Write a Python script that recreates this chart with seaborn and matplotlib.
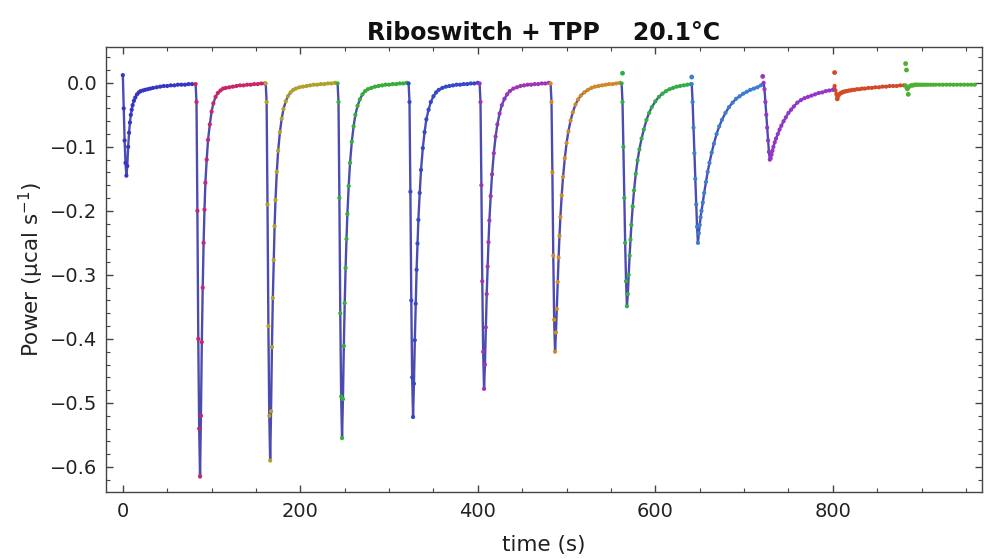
import pandas as pd
import matplotlib
matplotlib.use("Agg")
import matplotlib.pyplot as plt
from matplotlib.ticker import MultipleLocator, FuncFormatter
import seaborn as sns

# Injection start times (s) and the time offsets read inside each injection
inj_start = [0, 82, 161, 242, 322, 402, 482, 562, 641, 722, 802, 882]
rel_t = [0, 1, 2, 3, 4, 5, 6, 7, 8, 9, 10, 11, 12.5, 14, 16, 18, 20, 22.5, 25,
         28, 31, 34, 38, 42, 46, 50, 54, 58, 62, 66, 70, 74, 78]

# Power (ucal/s), one list per injection
p_inj1 = [0.012, -0.04, -0.09, -0.125, -0.145, -0.13, -0.1, -0.078, -0.062, -0.05, -0.042,
          -0.035, -0.028, -0.023, -0.018, -0.015, -0.013, -0.012, -0.011, -0.01, -0.009,
          -0.008, -0.007, -0.006, -0.005, -0.005, -0.004, -0.004, -0.003, -0.003, -0.003,
          -0.002, -0.002]
p_inj2 = [-0.002, -0.03, -0.2, -0.4, -0.54, -0.615, -0.52, -0.405, -0.32, -0.25, -0.198,
          -0.156, -0.12, -0.089, -0.065, -0.045, -0.032, -0.022, -0.016, -0.012, -0.009,
          -0.008, -0.007, -0.006, -0.005, -0.004, -0.004, -0.003, -0.003, -0.002, -0.002,
          -0.001, -0.001]
p_inj3 = [-0.001, -0.03, -0.19, -0.38, -0.52, -0.59, -0.513, -0.413, -0.336, -0.277, -0.224,
          -0.183, -0.139, -0.106, -0.077, -0.056, -0.041, -0.029, -0.021, -0.015, -0.011,
          -0.009, -0.007, -0.006, -0.005, -0.004, -0.003, -0.003, -0.002, -0.002, -0.001,
          -0.001, 0.0]
p_inj4 = [-0.001, -0.03, -0.18, -0.36, -0.49, -0.555, -0.494, -0.411, -0.344, -0.289, -0.244,
          -0.205, -0.161, -0.125, -0.092, -0.068, -0.05, -0.036, -0.026, -0.018, -0.013,
          -0.01, -0.008, -0.006, -0.005, -0.004, -0.003, -0.003, -0.002, -0.002, -0.001,
          -0.001, 0.0]
p_inj5 = [-0.001, -0.03, -0.17, -0.34, -0.46, -0.522, -0.47, -0.402, -0.345, -0.292, -0.251,
          -0.214, -0.172, -0.136, -0.102, -0.077, -0.057, -0.042, -0.03, -0.021, -0.015,
          -0.011, -0.008, -0.006, -0.005, -0.004, -0.003, -0.003, -0.002, -0.002, -0.001,
          -0.001, 0.0]
p_inj6 = [-0.001, -0.03, -0.16, -0.31, -0.42, -0.478, -0.44, -0.382, -0.33, -0.287, -0.249,
          -0.215, -0.177, -0.143, -0.11, -0.084, -0.065, -0.048, -0.035, -0.025, -0.018,
          -0.013, -0.009, -0.007, -0.005, -0.004, -0.003, -0.003, -0.002, -0.002, -0.001,
          -0.001, 0.0]
p_inj7 = [-0.001, -0.03, -0.14, -0.27, -0.37, -0.42, -0.39, -0.353, -0.311, -0.273, -0.239,
          -0.21, -0.176, -0.147, -0.118, -0.094, -0.076, -0.059, -0.046, -0.034, -0.026,
          -0.02, -0.015, -0.011, -0.008, -0.006, -0.005, -0.004, -0.003, -0.002, -0.002,
          -0.001, 0.0]
p_inj8 = [-0.001, -0.03, -0.1, -0.18, -0.25, -0.31, -0.349, -0.33, -0.3, -0.27, -0.245,
          -0.222, -0.193, -0.168, -0.142, -0.121, -0.104, -0.087, -0.073, -0.058, -0.047,
          -0.038, -0.029, -0.022, -0.017, -0.013, -0.01, -0.008, -0.006, -0.005, -0.004,
          -0.003, -0.002]
p_inj9 = [-0.002, -0.03, -0.07, -0.11, -0.15, -0.19, -0.225, -0.25, -0.235, -0.222, -0.21,
          -0.2, -0.187, -0.172, -0.155, -0.139, -0.125, -0.109, -0.095, -0.08, -0.068,
          -0.058, -0.047, -0.038, -0.031, -0.025, -0.021, -0.017, -0.014, -0.011, -0.009,
          -0.007, -0.004]
p_inj10 = [0.0, -0.01, -0.03, -0.05, -0.07, -0.09, -0.108, -0.12, -0.118, -0.112, -0.106,
           -0.1, -0.093, -0.087, -0.08, -0.073, -0.067, -0.06, -0.054, -0.047, -0.042,
           -0.037, -0.031, -0.027, -0.024, -0.022, -0.02, -0.018, -0.016, -0.015, -0.013,
           -0.012, -0.011]
p_inj11 = [-0.005, -0.012, -0.018, -0.02, -0.019, -0.018, -0.017, -0.016, -0.015, -0.015,
           -0.014, -0.014, -0.013, -0.013, -0.012, -0.012, -0.011, -0.011, -0.01, -0.01,
           -0.009, -0.009, -0.008, -0.008, -0.007, -0.007, -0.006, -0.006, -0.005, -0.005,
           -0.005, -0.004, -0.004]
p_inj12 = [-0.004, -0.008, -0.01, -0.008, -0.006, -0.005, -0.004, -0.004, -0.004, -0.004,
           -0.003, -0.003, -0.003, -0.003, -0.003, -0.003, -0.003, -0.003, -0.003, -0.003,
           -0.003, -0.003, -0.003, -0.003, -0.003, -0.003, -0.003, -0.003, -0.003, -0.003,
           -0.003, -0.003, -0.003]

# stray data points at injection moments
spike_t = [563, 641, 721, 802, 805, 806, 882, 883, 885]
spike_p = [0.015, 0.009, 0.01, 0.016, -0.025, -0.02, 0.03, 0.02, -0.018]
spike_inj = [8, 9, 10, 11, 11, 11, 12, 12, 12]

inj_colors = ['#3535c8', '#cc2468', '#b4a228', '#34b034', '#3448cc', '#a034b8',
              '#d48a24', '#30b044', '#3a80d0', '#9a34c8', '#d44a24', '#4cb030']

p_all = [p_inj1, p_inj2, p_inj3, p_inj4, p_inj5, p_inj6,
         p_inj7, p_inj8, p_inj9, p_inj10, p_inj11, p_inj12]

rows = []
for k, (t0, p) in enumerate(zip(inj_start, p_all)):
    for dt, v in zip(rel_t, p):
        rows.append({'time': t0 + dt, 'power': v, 'inj': k + 1})
df = pd.DataFrame(rows)
df_spike = pd.DataFrame({'time': spike_t, 'power': spike_p, 'inj': spike_inj})

sns.set_theme(style="ticks")
plt.rcParams['font.family'] = ['DejaVu Sans']

fig = plt.figure(figsize=(9.84, 5.59), dpi=100)
ax = fig.add_axes([0.1077, 0.12, 0.8902, 0.796])

sns.lineplot(data=df, x='time', y='power', estimator=None, sort=False,
             color='#4c4cb0', lw=1.7, ax=ax, zorder=2)
sns.scatterplot(data=df, x='time', y='power', hue='inj', palette=inj_colors,
                s=9, linewidth=0, legend=False, ax=ax, zorder=3)
sns.scatterplot(data=df_spike, x='time', y='power', hue='inj',
                palette={i: inj_colors[i - 1] for i in set(spike_inj)},
                s=12, linewidth=0, legend=False, ax=ax, zorder=3)

ax.set_xlim(-19, 968)
ax.set_ylim(-0.639, 0.056)
ax.xaxis.set_major_locator(MultipleLocator(200))
ax.xaxis.set_minor_locator(MultipleLocator(50))
ax.yaxis.set_major_locator(MultipleLocator(0.1))
ax.yaxis.set_minor_locator(MultipleLocator(0.02))
ax.yaxis.set_major_formatter(FuncFormatter(lambda v, pos: f"{v:.1f}".replace('-', '\u2212')))

for s in ax.spines.values():
    s.set_visible(True)
    s.set_color('#444444')
    s.set_linewidth(1.0)
ax.tick_params(which='both', direction='in', top=True, right=True,
               colors='#444444', labelcolor='#222222', labelsize=14)
ax.tick_params(which='major', length=5, width=1)
ax.tick_params(which='minor', length=3, width=0.8)
ax.tick_params(axis='x', which='major', pad=7)
ax.tick_params(axis='y', which='major', pad=6)

ax.set_xlabel('time (s)', fontsize=15.5, color='#222222', labelpad=10)
ax.set_ylabel('Power (µcal s$^{-1}$)', fontsize=15.5, color='#222222', labelpad=3)
ax.set_title('Riboswitch + TPP    20.1°C', fontsize=17, fontweight='bold',
             color='#111111', pad=5)

fig.savefig('out.png', dpi=100)
